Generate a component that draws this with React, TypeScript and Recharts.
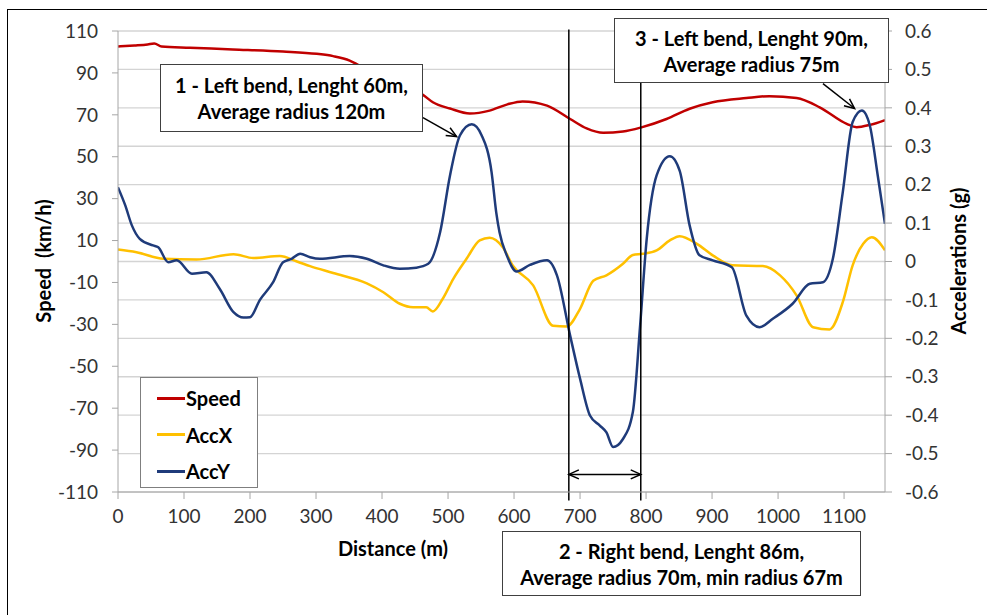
import React from "react";
import {
  CartesianGrid,
  Legend,
  Line,
  LineChart,
  ReferenceLine,
  XAxis,
  YAxis,
} from "recharts";

// Speed (km/h) against distance (m)
const speedDistance = [
  0, 25, 45, 55, 66, 109, 174, 250, 301, 326, 351, 366, 400, 430, 462, 477,
  503, 533, 563, 590, 613, 650, 685, 710, 735, 765, 793, 831, 866, 901, 952,
  987, 1028, 1063, 1104, 1119, 1139, 1162,
];
const speedKmh = [
  102.6, 103.1, 103.6, 104, 102.6, 102, 101.2, 100.2, 99.1, 98, 95.9, 93.5,
  88.5, 84, 79.5, 76, 73, 70.6, 72, 75, 76.4, 74.4, 68, 63.5, 61.4, 62, 64, 68,
  72.9, 76, 78, 78.9, 78, 73.6, 65.7, 64.1, 65.2, 67.5,
];

// Longitudinal acceleration (g)
const accXDistance = [
  0, 28, 69, 119, 175, 205, 245, 271, 291, 326, 377, 402, 427, 447, 467, 477,
  492, 508, 528, 548, 563, 583, 598, 629, 659, 680, 700, 720, 740, 765, 780,
  795, 816, 836, 851, 877, 901, 931, 977, 1003, 1028, 1053, 1078, 1098, 1113,
  1129, 1142, 1162,
];
const accXG = [
  0.031, 0.024, 0.007, 0.005, 0.019, 0.009, 0.014, 0.0, -0.012, -0.03, -0.057,
  -0.08, -0.11, -0.119, -0.119, -0.13, -0.097, -0.045, 0.007, 0.055, 0.062,
  0.037, -0.01, -0.062, -0.167, -0.169, -0.123, -0.05, -0.036, -0.006, 0.017,
  0.02, 0.029, 0.055, 0.066, 0.046, 0.016, -0.01, -0.012, -0.036, -0.088,
  -0.171, -0.177, -0.106, -0.01, 0.046, 0.063, 0.029,
];

// Lateral acceleration (g)
const accYDistance = [
  0, 11, 21, 33, 53, 61, 76, 89, 112, 134, 154, 175, 190, 200, 215, 235, 250,
  263, 276, 291, 306, 351, 377, 402, 427, 452, 470, 488, 503, 518, 536, 551,
  566, 573, 578, 589, 604, 624, 650, 665, 685, 700, 715, 730, 740, 750, 765,
  780, 791, 801, 816, 836, 851, 866, 881, 901, 930, 952, 972, 992, 1022, 1048,
  1068, 1083, 1098, 1113, 1127, 1139, 1151, 1162,
];
const accYG = [
  0.193, 0.146, 0.094, 0.059, 0.042, 0.037, -0.002, 0.003, -0.032, -0.028,
  -0.071, -0.132, -0.146, -0.145, -0.1, -0.054, -0.002, 0.007, 0.02, 0.011,
  0.007, 0.014, 0.007, -0.01, -0.019, -0.016, -0.006, 0.076, 0.224, 0.328,
  0.357, 0.328, 0.232, 0.128, 0.076, 0.016, -0.026, -0.009, 0.003, -0.036,
  -0.193, -0.305, -0.401, -0.427, -0.445, -0.483, -0.462, -0.392, -0.167,
  0.059, 0.224, 0.274, 0.236, 0.094, 0.016, 0.003, -0.015, -0.141, -0.171,
  -0.149, -0.11, -0.058, -0.054, 0.007, 0.18, 0.363, 0.393, 0.354, 0.224,
  0.098,
];

const seriesOrder = ["Speed", "AccX", "AccY"];
const distanceTicks = [0, 100, 200, 300, 400, 500, 600, 700, 800, 900, 1000, 1100];
const speedTicks = [-110, -90, -70, -50, -30, -10, 10, 30, 50, 70, 90, 110];
const accTicks = [
  -0.6, -0.5, -0.4, -0.3, -0.2, -0.1, 0, 0.1, 0.2, 0.3, 0.4, 0.5, 0.6,
];

// bend 2 limits (m)
const bendStart = 683;
const bendEnd = 792;

const toPoints = (dist: number[], vals: number[]) =>
  dist.map((d, i) => ({ distance: d, value: vals[i] }));

const speedData = toPoints(speedDistance, speedKmh);
const accXData = toPoints(accXDistance, accXG);
const accYData = toPoints(accYDistance, accYG);

const FONT = "Lato, 'Open Sans', sans-serif";
const tickStyle = { fontFamily: FONT, fontSize: 19, fill: "#333" };

function arrowHead(xa: number, ya: number, xb: number, yb: number) {
  const ang = Math.atan2(yb - ya, xb - xa);
  const len = 11;
  const spread = 0.42;
  const p1x = xb - len * Math.cos(ang - spread);
  const p1y = yb - len * Math.sin(ang - spread);
  const p2x = xb - len * Math.cos(ang + spread);
  const p2y = yb - len * Math.sin(ang + spread);
  return `M${p1x},${p1y} L${xb},${yb} L${p2x},${p2y}`;
}

function ArrowShape(props: any) {
  const { x1, y1, x2, y2, both } = props;
  return (
    <g stroke="#000" strokeWidth={1.5} fill="none">
      <line x1={x1} y1={y1} x2={x2} y2={y2} />
      <path d={arrowHead(x1, y1, x2, y2)} />
      {both && <path d={arrowHead(x2, y2, x1, y1)} />}
    </g>
  );
}

function renderLegend(props: any) {
  const items = [...(props.payload || [])].sort(
    (a: any, b: any) => seriesOrder.indexOf(a.value) - seriesOrder.indexOf(b.value)
  );
  return (
    <div
      style={{
        width: 118,
        height: 111,
        boxSizing: "border-box",
        border: "1.5px solid #7f7f7f",
        background: "#fff",
        paddingTop: 2,
      }}
    >
      {items.map((entry: any) => (
        <div
          key={entry.value}
          style={{ display: "flex", alignItems: "center", height: 36.5 }}
        >
          <span
            style={{
              display: "inline-block",
              marginLeft: 16,
              width: 28,
              height: 3,
              background: entry.color,
            }}
          />
          <span
            style={{
              fontFamily: FONT,
              fontWeight: 700,
              fontSize: 20,
              marginLeft: 1,
              color: "#000",
            }}
          >
            {entry.value}
          </span>
        </div>
      ))}
    </div>
  );
}

const noteBox: React.CSSProperties = {
  position: "absolute",
  boxSizing: "border-box",
  border: "1.5px solid #404040",
  background: "#fff",
  fontFamily: FONT,
  fontWeight: 700,
  fontSize: 20,
  lineHeight: "26px",
  textAlign: "center",
  color: "#000",
  display: "flex",
  flexDirection: "column",
  justifyContent: "center",
  whiteSpace: "nowrap",
  zIndex: 5,
};

const titleStyle: React.CSSProperties = {
  position: "absolute",
  whiteSpace: "pre",
  fontFamily: FONT,
  fontWeight: 700,
  fontSize: 20,
  color: "#000",
};

export default function App() {
  return (
    <div
      style={{
        position: "fixed",
        left: 0,
        top: 0,
        width: 987,
        height: 615,
        overflow: "hidden",
        background: "#fff",
      }}
    >
      <div
        style={{
          position: "absolute",
          left: 7,
          top: 9,
          width: 1000,
          height: 700,
          border: "1.5px solid #000",
        }}
      />
      <div style={{ position: "absolute", left: 0, top: 0 }}>
        <LineChart
          width={987}
          height={615}
          margin={{ top: 31, right: 22, bottom: 93, left: 38 }}
        >
          <CartesianGrid
            yAxisId="right"
            vertical={false}
            stroke="#d4d4d4"
            strokeWidth={1.3}
          />
          <XAxis
            type="number"
            dataKey="distance"
            domain={[0, 1162]}
            ticks={distanceTicks}
            allowDataOverflow
            height={30}
            tickSize={7}
            tickMargin={11}
            tick={tickStyle}
            stroke="#a6a6a6"
          />
          <YAxis
            yAxisId="left"
            domain={[-110, 110]}
            ticks={speedTicks}
            allowDataOverflow
            width={80}
            tickSize={6}
            tickMargin={14}
            tick={tickStyle}
            stroke="#a6a6a6"
          />
          <YAxis
            yAxisId="right"
            orientation="right"
            domain={[-0.6, 0.6]}
            ticks={accTicks}
            allowDataOverflow
            width={80}
            tickSize={7}
            tickMargin={13}
            tick={tickStyle}
            tickFormatter={(v: number) => (v === 0 ? "0" : v.toFixed(1))}
            stroke="#a6a6a6"
          />
          <Line
            yAxisId="left"
            data={speedData}
            dataKey="value"
            name="Speed"
            type="monotone"
            stroke="#c00000"
            strokeWidth={2.5}
            dot={false}
            isAnimationActive={false}
          />
          <Line
            yAxisId="right"
            data={accXData}
            dataKey="value"
            name="AccX"
            type="monotone"
            stroke="#ffc000"
            strokeWidth={2.5}
            dot={false}
            isAnimationActive={false}
          />
          <Line
            yAxisId="right"
            data={accYData}
            dataKey="value"
            name="AccY"
            type="monotone"
            stroke="#1f3b7a"
            strokeWidth={2.5}
            dot={false}
            isAnimationActive={false}
          />
          <ReferenceLine
            yAxisId="left"
            ifOverflow="visible"
            segment={[
              { x: bendStart, y: 110.7 },
              { x: bendStart, y: -114 },
            ]}
            stroke="#000"
            strokeWidth={1.5}
          />
          <ReferenceLine
            yAxisId="left"
            ifOverflow="visible"
            segment={[
              { x: bendEnd, y: 110.7 },
              { x: bendEnd, y: -114 },
            ]}
            stroke="#000"
            strokeWidth={1.5}
          />
          <ReferenceLine
            yAxisId="left"
            ifOverflow="visible"
            segment={[
              { x: bendStart, y: -101.6 },
              { x: bendEnd, y: -101.6 },
            ]}
            shape={(p: any) => <ArrowShape {...p} both />}
          />
          <ReferenceLine
            yAxisId="left"
            ifOverflow="visible"
            segment={[
              { x: 462, y: 68.7 },
              { x: 513, y: 59.6 },
            ]}
            shape={(p: any) => <ArrowShape {...p} />}
          />
          <ReferenceLine
            yAxisId="left"
            ifOverflow="visible"
            segment={[
              { x: 1068, y: 84.9 },
              { x: 1116, y: 73 },
            ]}
            shape={(p: any) => <ArrowShape {...p} />}
          />
          <Legend
            layout="vertical"
            align="center"
            verticalAlign="middle"
            width={118}
            height={111}
            wrapperStyle={{ left: 140, top: 377, width: 118, height: 111 }}
            content={renderLegend}
          />
        </LineChart>
      </div>

      {/* axis titles */}
      <div
        style={{
          ...titleStyle,
          left: 43,
          top: 261,
          transform: "translate(-50%, -50%) rotate(-90deg)",
        }}
      >
        {"Speed  (km/h)"}
      </div>
      <div
        style={{
          ...titleStyle,
          left: 958,
          top: 261,
          transform: "translate(-50%, -50%) rotate(-90deg)",
        }}
      >
        Accelerations (g)
      </div>
      <div
        style={{
          ...titleStyle,
          left: 393,
          top: 548,
          transform: "translate(-50%, -50%)",
        }}
      >
        Distance (m)
      </div>

      {/* annotations */}
      <div style={{ ...noteBox, left: 160, top: 64, width: 263, height: 68 }}>
        <div>1 - Left bend, Lenght 60m,</div>
        <div>Average radius 120m</div>
      </div>
      <div style={{ ...noteBox, left: 614, top: 18, width: 275, height: 65 }}>
        <div>3 - Left bend, Lenght 90m,</div>
        <div>Average radius 75m</div>
      </div>
      <div style={{ ...noteBox, left: 502, top: 531, width: 359, height: 65 }}>
        <div>2 - Right bend, Lenght 86m,</div>
        <div>Average radius 70m, min radius 67m</div>
      </div>
    </div>
  );
}
